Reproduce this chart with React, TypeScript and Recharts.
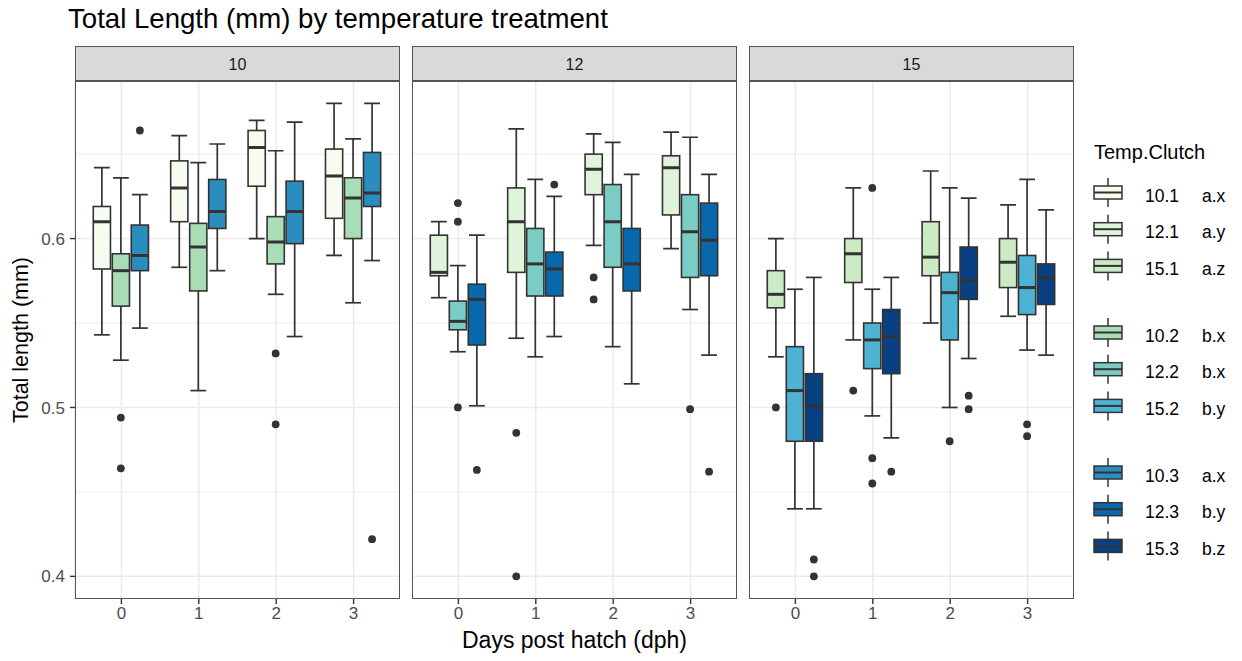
import React from "react";
import { ComposedChart, Bar, XAxis, YAxis, CartesianGrid } from "recharts";

const FONT = "'Liberation Sans', Arial, Helvetica, sans-serif";

const DAYS = ["0", "1", "2", "3"];
const TEMPS = ["10", "12", "15"];
const CLUTCHES = ["1", "2", "3"];

const Y_TICKS = [0.4, 0.5, 0.6];
const Y_MINOR = [0.45, 0.55, 0.65];
const Y_DOMAIN: [number, number] = [0.3866, 0.6933];

// colour per Temp.Clutch (GnBu)
const LEGEND_KEYS = ["10.1", "12.1", "15.1", "10.2", "12.2", "15.2", "10.3", "12.3", "15.3"];
const LEGEND_GROUPS = ["a.x", "a.y", "a.z", "b.x", "b.x", "b.y", "a.x", "b.y", "b.z"];
const LEGEND_COLORS = [
  "#f7fcf0", "#e0f3db", "#ccebc5",
  "#a8ddb5", "#7bccc4", "#4eb3d3",
  "#2b8cbe", "#0868ac", "#084081",
];

// [lower whisker, Q1, median, Q3, upper whisker] per clutch, per dph 0..3
const STATS_10 = [
  [[0.543, 0.582, 0.610, 0.619, 0.642], [0.583, 0.610, 0.630, 0.646, 0.661], [0.600, 0.631, 0.654, 0.664, 0.670], [0.590, 0.612, 0.637, 0.653, 0.680]],
  [[0.528, 0.560, 0.581, 0.591, 0.636], [0.510, 0.569, 0.595, 0.609, 0.645], [0.567, 0.585, 0.598, 0.613, 0.652], [0.562, 0.600, 0.624, 0.636, 0.659]],
  [[0.547, 0.581, 0.590, 0.608, 0.626], [0.581, 0.606, 0.616, 0.635, 0.656], [0.542, 0.597, 0.616, 0.634, 0.669], [0.587, 0.619, 0.627, 0.651, 0.680]],
];
const STATS_12 = [
  [[0.565, 0.578, 0.580, 0.602, 0.610], [0.541, 0.580, 0.610, 0.630, 0.665], [0.596, 0.626, 0.641, 0.650, 0.662], [0.594, 0.614, 0.642, 0.649, 0.663]],
  [[0.533, 0.546, 0.551, 0.563, 0.584], [0.530, 0.566, 0.585, 0.606, 0.635], [0.536, 0.583, 0.610, 0.632, 0.657], [0.558, 0.577, 0.604, 0.626, 0.660]],
  [[0.501, 0.537, 0.564, 0.573, 0.602], [0.542, 0.566, 0.582, 0.592, 0.625], [0.514, 0.569, 0.585, 0.606, 0.638], [0.531, 0.578, 0.599, 0.621, 0.638]],
];
const STATS_15 = [
  [[0.530, 0.559, 0.567, 0.581, 0.600], [0.540, 0.574, 0.591, 0.600, 0.630], [0.550, 0.578, 0.589, 0.610, 0.640], [0.554, 0.571, 0.586, 0.600, 0.620]],
  [[0.440, 0.480, 0.510, 0.536, 0.570], [0.495, 0.523, 0.540, 0.550, 0.570], [0.500, 0.540, 0.568, 0.580, 0.630], [0.534, 0.555, 0.571, 0.590, 0.635]],
  [[0.440, 0.480, 0.501, 0.520, 0.577], [0.482, 0.520, 0.542, 0.558, 0.577], [0.529, 0.564, 0.575, 0.595, 0.624], [0.531, 0.561, 0.577, 0.585, 0.617]],
];

// outliers per clutch, per dph 0..3
const OUTLIERS_10 = [
  [[], [], [], []],
  [[0.494, 0.464], [], [0.532, 0.490], []],
  [[0.664], [], [], [0.422]],
];
const OUTLIERS_12 = [
  [[], [0.485, 0.400], [0.577, 0.564], []],
  [[0.621, 0.610, 0.500], [], [], [0.499]],
  [[0.463], [0.632], [], [0.462]],
];
const OUTLIERS_15 = [
  [[0.500], [0.510], [], []],
  [[], [0.630, 0.470, 0.455], [0.480], [0.490, 0.483]],
  [[0.410, 0.400], [0.462], [0.507, 0.499], []],
];

const ALL_STATS = [STATS_10, STATS_12, STATS_15];
const ALL_OUTLIERS = [OUTLIERS_10, OUTLIERS_12, OUTLIERS_15];

// layout
const PANEL_LEFTS = [75, 412, 749];
const PANEL_W = 325;
const PANEL_TOP = 81;
const PANEL_H = 518;
const STRIP_H = 35;
const XAXIS_H = 32;
const INK = "#333333";

function buildRows(ti: number) {
  return DAYS.map((day, di) => {
    const row: Record<string, unknown> = { day };
    CLUTCHES.forEach((_, ci) => {
      const s = ALL_STATS[ti][ci][di];
      row[`r${ci}`] = [s[0], s[4]];
      row[`s${ci}`] = s;
      row[`o${ci}`] = ALL_OUTLIERS[ti][ci][di];
    });
    return row;
  });
}

function makeBoxShape(ci: number, color: string) {
  // eslint-disable-next-line @typescript-eslint/no-explicit-any
  return function BoxShape(props: any) {
    const { x, y, width, height, payload } = props;
    const s: number[] = payload[`s${ci}`];
    const outs: number[] = payload[`o${ci}`] ?? [];
    const top = Math.min(y, y + height);
    const bottom = Math.max(y, y + height);
    const lo = s[0];
    const hi = s[4];
    // linear map from value to pixel, using the bar's own scaled extent
    const py = (v: number) => top + ((hi - v) / (hi - lo)) * (bottom - top);
    const cx = x + width / 2;
    const bw = width - 1.8;
    const bx = cx - bw / 2;
    const capW = bw * 0.92;
    return (
      <g>
        <line x1={cx} x2={cx} y1={py(s[4])} y2={py(s[3])} stroke={INK} strokeWidth={1.7} />
        <line x1={cx} x2={cx} y1={py(s[1])} y2={py(s[0])} stroke={INK} strokeWidth={1.7} />
        <line x1={cx - capW / 2} x2={cx + capW / 2} y1={py(s[4])} y2={py(s[4])} stroke={INK} strokeWidth={1.7} />
        <line x1={cx - capW / 2} x2={cx + capW / 2} y1={py(s[0])} y2={py(s[0])} stroke={INK} strokeWidth={1.7} />
        <rect
          x={bx}
          y={py(s[3])}
          width={bw}
          height={py(s[1]) - py(s[3])}
          fill={color}
          stroke={INK}
          strokeWidth={1.6}
        />
        <line x1={bx} x2={bx + bw} y1={py(s[2])} y2={py(s[2])} stroke={INK} strokeWidth={3} />
        {outs.map((v, k) => (
          <circle key={k} cx={cx} cy={py(v)} r={3.9} fill={INK} />
        ))}
      </g>
    );
  };
}

const tickStyle = { fontSize: 17, fill: "#4d4d4d", fontFamily: FONT };

function Panel({ ti }: { ti: number }) {
  const data = buildRows(ti);
  const first = ti === 0;
  const chartW = first ? PANEL_LEFTS[0] + PANEL_W : PANEL_W;
  return (
    <div style={{ position: "absolute", left: first ? 0 : PANEL_LEFTS[ti], top: PANEL_TOP }}>
      <ComposedChart
        width={chartW}
        height={PANEL_H + XAXIS_H}
        data={data}
        margin={{ top: 0, right: 0, bottom: 0, left: 0 }}
        barGap={0}
        barCategoryGap="12.5%"
      >
        <CartesianGrid horizontalValues={Y_MINOR} vertical={false} stroke="#ebebeb" strokeWidth={0.9} />
        <CartesianGrid horizontalValues={Y_TICKS} stroke="#ebebeb" strokeWidth={1.5} />
        <XAxis
          dataKey="day"
          padding={{ left: 7.7, right: 7.7 }}
          axisLine={false}
          tickLine={{ stroke: INK, strokeWidth: 1.4 }}
          tickSize={5}
          tickMargin={3}
          tick={tickStyle}
          height={XAXIS_H}
          interval={0}
        />
        <YAxis
          type="number"
          domain={Y_DOMAIN}
          allowDataOverflow
          ticks={Y_TICKS}
          hide={!first}
          width={PANEL_LEFTS[0]}
          axisLine={false}
          tickLine={{ stroke: INK, strokeWidth: 1.4 }}
          tickSize={5}
          tickMargin={5}
          tick={tickStyle}
        />
        {CLUTCHES.map((c, ci) => (
          <Bar
            key={c}
            dataKey={`r${ci}`}
            name={`${TEMPS[ti]}.${c}`}
            shape={makeBoxShape(ci, LEGEND_COLORS[ci * 3 + ti])}
            isAnimationActive={false}
          />
        ))}
      </ComposedChart>
    </div>
  );
}

export default function App() {
  const legendRowY = (i: number) => 192.5 + Math.floor(i / 3) * 140 + (i % 3) * 36.7;
  return (
    <div
      style={{
        position: "absolute",
        left: 0,
        top: 0,
        width: 1242,
        height: 661,
        background: "#ffffff",
        fontFamily: FONT,
        overflow: "hidden",
      }}
    >
      {TEMPS.map((t, ti) => (
        <Panel key={t} ti={ti} />
      ))}

      <svg
        width={1242}
        height={661}
        style={{ position: "absolute", left: 0, top: 0, pointerEvents: "none" }}
        fontFamily={FONT}
      >
        {/* title */}
        <text x={68} y={28} fontSize={27.6} fill="#000">
          Total Length (mm) by temperature treatment
        </text>

        {/* strips + panel borders */}
        {TEMPS.map((t, ti) => (
          <g key={t}>
            <rect
              x={PANEL_LEFTS[ti] + 0.5}
              y={PANEL_TOP - STRIP_H + 0.5}
              width={PANEL_W - 1}
              height={STRIP_H - 1}
              fill="#d9d9d9"
              stroke="#555"
              strokeWidth={1}
            />
            <text
              x={PANEL_LEFTS[ti] + PANEL_W / 2}
              y={69.5}
              fontSize={16}
              fill="#1a1a1a"
              textAnchor="middle"
            >
              {t}
            </text>
            <rect
              x={PANEL_LEFTS[ti] + 0.5}
              y={PANEL_TOP + 0.5}
              width={PANEL_W - 1}
              height={PANEL_H - 1}
              fill="none"
              stroke="#555"
              strokeWidth={1}
            />
          </g>
        ))}

        {/* axis titles */}
        <text x={574.5} y={648} fontSize={23} textAnchor="middle" fill="#000">
          Days post hatch (dph)
        </text>
        <text
          transform="translate(28,340) rotate(-90)"
          fontSize={21.5}
          textAnchor="middle"
          fill="#000"
        >
          Total length (mm)
        </text>

        {/* legend */}
        <text x={1094} y={159} fontSize={20} fill="#000">
          Temp.Clutch
        </text>
        {LEGEND_KEYS.map((k, i) => {
          const cy = legendRowY(i);
          return (
            <g key={k}>
              <line x1={1108} x2={1108} y1={cy - 14.5} y2={cy + 14.5} stroke={INK} strokeWidth={1.5} />
              <rect x={1094} y={cy - 6.5} width={28} height={13} fill={LEGEND_COLORS[i]} stroke={INK} strokeWidth={1.5} />
              <line x1={1094} x2={1122} y1={cy} y2={cy} stroke={INK} strokeWidth={2} />
              <text x={1145} y={cy + 9} fontSize={17.5} fill="#000">
                {k}
              </text>
              <text x={1202} y={cy + 9} fontSize={17.5} fill="#000">
                {LEGEND_GROUPS[i]}
              </text>
            </g>
          );
        })}
      </svg>
    </div>
  );
}
